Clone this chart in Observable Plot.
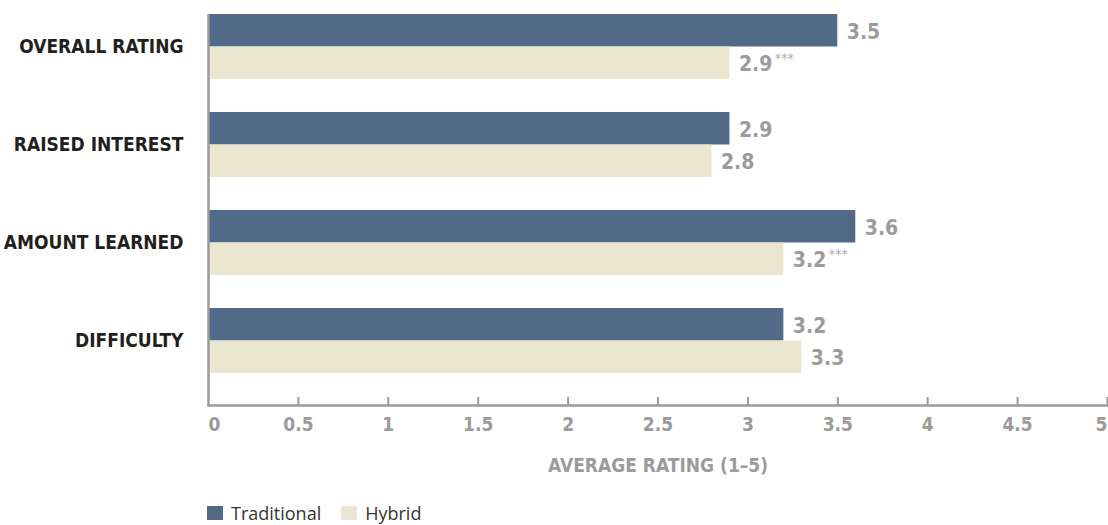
<!DOCTYPE html>
<html>
<head>
<meta charset="utf-8">
<script src="https://cdn.jsdelivr.net/npm/d3@7"></script>
<script src="https://cdn.jsdelivr.net/npm/@observablehq/plot@0.6"></script>
<style>
  html, body { margin: 0; padding: 0; background: #fff; }
  #chart svg { display: block; font-stretch: condensed; }
  #chart svg text { font-stretch: condensed; }
  .legend { display: flex; align-items: center; margin-left: 207px; height: 24px; margin-top: 11px;
            font-family: "Open Sans", "Noto Sans", sans-serif; font-size: 18px; color: #333; }
  .legend .sw { width: 16px; height: 14px; display: inline-block; margin-right: 8px; }
  .legend .item { display: flex; align-items: center; margin-right: 20px; }
</style>
</head>
<body>
<div id="chart"></div>
<script>
const categories = ["OVERALL RATING", "RAISED INTEREST", "AMOUNT LEARNED", "DIFFICULTY"];
const traditional = [3.5, 2.9, 3.6, 3.2];
const hybrid = [2.9, 2.8, 3.2, 3.3];
const significance = ["***", "", "***", ""];
const xTicks = [0, 0.5, 1, 1.5, 2, 2.5, 3, 3.5, 4, 4.5, 5];
const xTitle = "AVERAGE RATING (1–5)";
const seriesNames = ["Traditional", "Hybrid"];
const seriesColors = ["#506a88", "#ebe6cf"];

const data = categories.map((c, i) => ({
  category: c, traditional: traditional[i], hybrid: hybrid[i], sig: significance[i]
}));

const condensed = '"DejaVu Sans Condensed", "DejaVu Sans", sans-serif';
const grey = "#9b9b9b";

const chart = Plot.plot({
  width: 1108,
  height: 490,
  marginTop: 14,
  marginLeft: 208,
  marginRight: 1,
  marginBottom: 85,
  style: { fontFamily: condensed, fontWeight: "bold", overflow: "visible" },
  x: { domain: [0, 5], axis: null },
  y: { domain: categories, range: [14, 373], paddingInner: 0.337, paddingOuter: 0, axis: null },
  marks: [
    Plot.barX(data, { y: "category", x: "traditional", fill: seriesColors[0], insetBottom: 32.5 }),
    Plot.barX(data, { y: "category", x: "hybrid", fill: seriesColors[1], insetTop: 32.5 }),
    Plot.text(data, { y: "category", x: "traditional", text: d => d3.format(".1f")(d.traditional),
      textAnchor: "start", dx: 9, dy: -15, fill: grey, fontSize: 21, fontWeight: "bold" }),
    Plot.text(data, { y: "category", x: "hybrid", text: d => d3.format(".1f")(d.hybrid),
      textAnchor: "start", dx: 9, dy: 17, fill: grey, fontSize: 21, fontWeight: "bold" }),
    Plot.text(data, { y: "category", x: "hybrid", text: "sig",
      textAnchor: "start", dx: 45, dy: 12, fill: "#aaa", fontSize: 14, fontWeight: "normal" }),
    Plot.axisY({ tickSize: 0, tickPadding: 25, fontSize: 19, fill: "#231f20", label: null }),
    Plot.ruleX([0], { stroke: grey, strokeWidth: 2.5 }),
    Plot.frame({ anchor: "bottom", stroke: grey, strokeWidth: 2.5 }),
    Plot.tickX(xTicks.slice(1), { x: d => d, stroke: grey, strokeWidth: 2, insetTop: 383 }),
    Plot.text(xTicks.filter(t => t > 0 && t < 5), { x: d => d, frameAnchor: "bottom", dy: 25,
      fill: grey, fontSize: 19 }),
    Plot.text([xTicks[0]], { x: d => d, frameAnchor: "bottom", dy: 25, textAnchor: "start",
      fill: grey, fontSize: 19 }),
    Plot.text([xTicks[xTicks.length - 1]], { x: d => d, frameAnchor: "bottom", dy: 25, textAnchor: "end",
      fill: grey, fontSize: 19 }),
    Plot.text([xTitle], { frameAnchor: "bottom", dy: 66, fill: grey, fontSize: 19,
      text: d => d })
  ]
});
document.getElementById("chart").appendChild(chart);

const legend = document.createElement("div");
legend.className = "legend";
seriesNames.forEach((name, i) => {
  const item = document.createElement("span");
  item.className = "item";
  const sw = document.createElement("span");
  sw.className = "sw";
  sw.style.background = seriesColors[i];
  item.appendChild(sw);
  item.appendChild(document.createTextNode(name));
  legend.appendChild(item);
});
document.body.appendChild(legend);
</script>
</body>
</html>
